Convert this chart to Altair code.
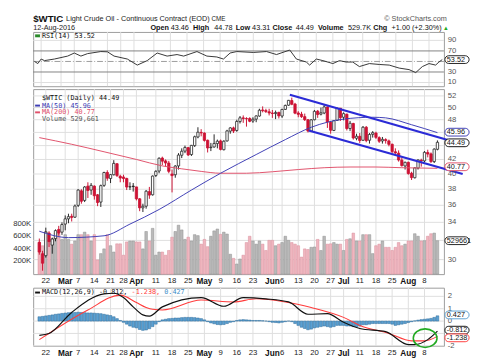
import altair as alt
import pandas as pd

# ---------------- data ----------------
tick_idx = [2, 8, 12, 17, 22, 26, 30, 36, 41, 46, 51, 56, 61, 66, 72, 75, 80, 85, 90, 94, 99, 104, 109, 114, 119]
tick_txt = ["22", "Mar", "7", "14", "21", "28", "Apr", "11", "18", "25", "May", "9", "16", "23",
            "Jun", "6", "13", "20", "27", "Jul", "11", "18", "25", "Aug", "8"]
month_idx = [8, 30, 51, 72, 94, 114]

price_ticks = [30, 32, 34, 36, 38, 40, 42, 44, 46, 48, 50, 52]
price_hidden = [32, 44, 46]          # covered by the value tags in the reference
vol_ticks = [200000, 400000, 600000, 800000]
rsi_ticks = [10, 30, 50, 70, 90]
rsi_hidden = [50]
macd_ticks = [-2, -1, 0, 1, 2]
macd_hidden = [-1]

opens = [31.8, 30.6, 30.4, 32.8, 31.5, 32.2, 33.2, 32.9, 33.8, 34.4,
         34.7, 34.6, 36.0, 37.8, 36.6, 38.4, 37.9, 38.4, 37.3, 36.4,
         38.5, 40.2, 39.4, 39.9, 41.4, 39.7, 39.6, 39.4, 38.3, 38.4,
         38.3, 36.8, 35.7, 35.9, 37.7, 37.3, 39.8, 40.4, 42.2, 41.8,
         41.5, 40.0, 39.9, 41.1, 42.6, 43.2, 43.7, 42.7, 44.0, 45.3,
         46.0, 45.9, 44.8, 43.7, 43.8, 44.3, 44.7, 43.4, 44.7, 46.2,
         46.7, 46.3, 47.7, 48.3, 48.2, 48.2, 47.8, 48.1, 48.6, 49.6,
         49.5, 49.3, 49.1, 49.0, 49.2, 48.6, 49.7, 50.4, 51.2, 50.6,
         49.1, 48.9, 48.5, 48.0, 46.2, 48.0, 49.4, 48.9, 49.1, 50.1,
         47.6, 46.3, 47.9, 49.9, 48.4, 48.9, 46.6, 47.4, 45.1, 45.4,
         44.8, 46.8, 44.8, 45.7, 45.9, 45.2, 44.7, 44.9, 44.7, 44.2,
         43.1, 42.9, 41.9, 41.1, 41.6, 40.1, 39.5, 40.8, 41.9, 41.8,
         43.0, 42.8, 41.7, 43.46]
highs = [32.2, 30.9, 33.4, 33.0, 32.3, 33.2, 33.6, 34.0, 34.8, 35.0,
         35.0, 36.1, 38.0, 38.0, 38.4, 38.9, 38.8, 38.5, 37.4, 38.6,
         40.3, 40.5, 40.0, 41.9, 41.5, 39.9, 39.9, 39.5, 38.9, 38.8,
         38.3, 36.9, 36.2, 37.9, 38.3, 39.8, 40.5, 42.3, 42.4, 42.0,
         41.8, 40.6, 41.2, 42.9, 43.6, 44.0, 43.8, 44.1, 45.5, 46.8,
         46.5, 46.0, 44.9, 44.4, 45.7, 44.9, 44.9, 44.8, 46.4, 46.8,
         46.9, 48.0, 48.6, 48.7, 48.4, 48.4, 48.4, 48.7, 49.8, 50.2,
         49.8, 49.8, 49.6, 49.5, 49.3, 49.8, 50.5, 51.3, 51.7, 50.8,
         49.4, 49.3, 49.0, 48.1, 48.1, 49.6, 49.6, 50.0, 50.5, 50.2,
         47.8, 47.9, 50.0, 49.9, 49.2, 49.0, 47.8, 47.5, 45.8, 45.9,
         47.0, 47.0, 45.9, 46.2, 46.1, 45.4, 45.3, 45.1, 44.9, 44.3,
         43.6, 43.3, 42.3, 41.7, 41.7, 40.3, 40.9, 42.0, 42.1, 43.2,
         43.4, 43.0, 43.6, 44.78]
lows = [30.5, 28.9, 30.2, 31.3, 30.6, 31.9, 32.5, 32.6, 33.1, 33.9,
        34.1, 34.5, 35.8, 36.2, 36.4, 36.9, 37.3, 36.7, 35.9, 35.8,
        38.3, 39.1, 38.8, 39.8, 39.6, 38.9, 38.9, 37.9, 37.9, 37.7,
        36.6, 35.3, 35.2, 35.6, 36.8, 37.2, 39.6, 40.1, 41.2, 41.0,
        40.1, 37.6, 39.5, 40.6, 42.2, 42.9, 42.5, 42.5, 43.8, 45.1,
        45.4, 44.6, 43.0, 43.2, 43.7, 43.6, 43.3, 43.3, 44.6, 45.8,
        45.9, 46.1, 47.4, 47.5, 46.9, 47.6, 47.5, 47.6, 48.5, 49.2,
        49.1, 48.7, 48.3, 48.1, 48.2, 48.3, 49.6, 50.3, 50.4, 48.9,
        48.4, 48.3, 47.8, 46.0, 46.1, 47.9, 48.3, 48.7, 48.9, 46.7,
        45.8, 46.2, 47.8, 47.8, 47.9, 46.3, 46.2, 44.9, 44.8, 44.4,
        44.7, 44.5, 44.3, 45.2, 45.0, 44.4, 44.3, 44.3, 43.9, 42.9,
        42.8, 41.7, 41.0, 40.6, 39.9, 39.2, 39.4, 40.6, 41.0, 41.6,
        42.3, 41.5, 41.5, 43.31]
closes = [30.77, 29.64, 32.90, 31.87, 32.15, 33.07, 32.78, 33.75, 34.40, 34.66,
          34.57, 35.92, 37.90, 36.50, 38.29, 37.84, 38.50, 37.18, 36.34, 38.46,
          40.20, 39.44, 39.91, 41.45, 39.79, 39.46, 39.39, 38.28, 38.32, 38.34,
          36.79, 35.70, 35.89, 37.75, 37.26, 39.72, 40.36, 42.17, 41.76, 41.50,
          40.36, 39.78, 41.08, 42.63, 43.18, 43.73, 42.64, 44.04, 45.33, 46.03,
          45.92, 44.78, 43.65, 43.78, 44.32, 44.66, 43.44, 44.66, 46.23, 46.70,
          46.21, 47.72, 48.31, 48.19, 48.16, 47.75, 48.08, 48.62, 49.56, 49.48,
          49.33, 49.10, 49.01, 49.17, 48.62, 49.69, 50.36, 51.23, 50.56, 49.07,
          48.88, 48.49, 48.01, 46.21, 47.98, 49.37, 48.85, 49.13, 50.11, 47.64,
          46.33, 47.85, 49.88, 48.33, 48.99, 46.60, 47.43, 45.14, 45.41, 44.76,
          46.80, 44.75, 45.68, 45.95, 45.24, 44.65, 44.94, 44.75, 44.19, 43.13,
          42.92, 41.92, 41.14, 41.60, 40.06, 39.51, 40.83, 41.93, 41.80, 43.02,
          42.77, 41.71, 43.49, 44.49]
volumes_k = [500, 450, 675, 525, 560, 650, 630, 550, 625, 550, 475, 525, 625, 625, 665, 625, 525, 625, 225, 325,
             400, 625, 450, 350, 480, 480, 300, 510, 525, 525, 510, 510, 400, 675, 525, 725, 300, 350,
             350, 300, 375, 585, 675, 775, 700, 550, 585, 525, 625, 610, 475, 550, 435, 600, 685, 715, 630, 665,
             635, 315, 250, 160, 240, 300, 500, 600, 525, 475, 525, 475, 375, 535, 535, 450, 475, 500, 600, 535,
             500, 475, 450, 270, 400, 390,
             425, 430, 550, 375, 600, 475, 480, 500, 475, 475, 375, 550, 560, 650, 525, 525, 625, 625, 625, 325,
             450, 475, 525, 425, 425, 375, 425, 500, 450, 475, 525, 525, 640, 600, 525, 530, 600, 640, 650, 530]

ma50_idx = [0, 9, 20, 28, 37, 47, 56, 67, 76, 84, 94, 103, 107, 115, 123]
ma50_val = [33.0, 32.3, 32.5, 33.8, 35.5, 37.9, 40.1, 42.7, 44.9, 46.8, 48.1, 48.4, 48.3, 47.2, 45.96]
ma200_idx = [0, 10, 20, 30, 38, 44, 50, 56, 64, 72, 80, 88, 96, 104, 112, 123]
ma200_val = [45.2, 44.2, 43.1, 42.0, 41.1, 40.7, 40.35, 40.1, 40.1, 40.3, 40.6, 40.85, 40.95, 40.95, 40.85, 40.77]

chan_i1 = [77.4, 83.2]
chan_p1 = [52.2, 46.3]
chan_i2 = [130.8, 130.8]
chan_p2 = [44.2, 40.0]

rsi_idx = [0, 1, 2, 3, 6, 10, 12, 14, 16, 20, 22, 24, 28, 31, 34, 37, 40, 43, 45, 49, 52, 55, 57, 59, 61,
           66, 70, 73, 77, 79, 82, 83, 85, 87, 90, 92, 94, 96, 98, 101, 104, 107, 110, 113, 115, 117, 119,
           121, 122, 123]
rsi_val = [50, 46, 54.6, 51.6, 54.6, 60.2, 66, 60.2, 64.9, 68.8, 68.3, 60.2, 54.6, 43.1, 51.6, 66, 60.2, 63.1,
           60.2, 68.8, 60.2, 58.5, 54.6, 66, 68.8, 67.1, 68.8, 63.1, 71.7, 54.6, 48.9, 43.1, 54.6, 51.6, 46,
           51.6, 48.9, 48.9, 40.3, 46, 44.3, 43.1, 37.4, 34.5, 28.8, 40.3, 46, 43.1, 48.9, 53.52]

macd_idx = [0, 3, 10, 20, 23, 26, 29, 32, 34, 38, 50, 57, 63, 70, 77, 83, 89, 94, 99, 107, 114, 116, 120, 123]
macd_val = [-1.15, -1.0, 0.7, 2.2, 2.25, 1.9, 1.15, 0.5, 0.4, 1.15, 1.9, 1.2, 1.9, 1.8, 1.55, 0.55, 0.6,
            -0.1, -0.6, -0.85, -1.9, -1.9, -1.5, -0.812]
signal_idx = [0, 15, 25, 30, 33, 35, 38, 50, 60, 67, 76, 84, 94, 99, 108, 115, 119, 123]
signal_val = [-1.5, 0.9, 2.1, 1.5, 1.1, 0.95, 0.9, 1.7, 1.55, 1.8, 1.55, 1.1, 0.3, -0.35, -1.0, -1.6, -1.6,
              -1.238]
hist_val = [0.35, 0.38, 0.42, 0.46, 0.5, 0.55, 0.58, 0.62, 0.65, 0.68,
            0.7, 0.7, 0.72, 0.7, 0.68, 0.66, 0.66, 0.64, 0.62, 0.6,
            0.55, 0.5, 0.45, 0.35, 0.2, 0.05, -0.1, -0.25, -0.4, -0.5,
            -0.55, -0.68, -0.75, -0.72, -0.62, -0.45, -0.25, -0.05,
            0.1, 0.15, 0.2, 0.22, 0.25, 0.25, 0.28, 0.3, 0.3, 0.3, 0.28, 0.25,
            0.2, 0.1, -0.05, -0.15, -0.22, -0.28, -0.3, -0.28, -0.2, -0.1,
            -0.05, 0.05, 0.1, 0.12, 0.1, 0.08, 0.05, 0.05, 0.05, 0.03,
            0.0, -0.05, -0.1, -0.12, -0.15, -0.1, -0.05, 0.0, -0.05, -0.2,
            -0.35, -0.5, -0.6, -0.7, -0.65, -0.55, -0.5, -0.45, -0.4, -0.45,
            -0.5, -0.45, -0.35, -0.35, -0.35, -0.4, -0.4, -0.45, -0.45, -0.4,
            -0.3, -0.3, -0.25, -0.2, -0.2, -0.2, -0.2, -0.2, -0.2, -0.25,
            -0.35, -0.3, -0.25, -0.2, -0.12, -0.05, 0.02, 0.08, 0.12, 0.15,
            0.18, 0.22, 0.3, 0.427]
ellipse_i = [119.2]
ellipse_v = [-1.38]

# ---------------- styling / layout ----------------
SANS = "Liberation Sans"
MONO = "DejaVu Sans Mono"
GRID = "#dedede"
W = 424
H_RSI, H_PRICE, H_MACD = 56, 191, 60
XDOM = [-0.4, 123.5]
RED = "#cc1133"
BLUE_MA = "#3c3cb4"
RED_MA = "#e0506a"
LEFT_PAD = -25
TAG_H = 4.0

n = len(closes)
df = pd.DataFrame({"i": list(range(n)), "open": opens, "high": highs, "low": lows,
                   "close": closes, "vol": [v * 1000 for v in volumes_k]})
down = [True] + [closes[k] < closes[k - 1] for k in range(1, n)]
df["line_col"] = [RED if d else "#222222" for d in down]
df["fill_col"] = ["#ffffff" if c > o else lc for c, o, lc in zip(closes, opens, df["line_col"])]
df["vol_fill"] = ["#efb6bf" if d else "#b9b9b9" for d in down]
df["vol_stroke"] = ["#d98d9b" if d else "#8f8f8f" for d in down]

ticks_df = pd.DataFrame({"i": tick_idx, "t": tick_txt})
month_df = ticks_df[ticks_df["i"].isin(month_idx)]
day_df = ticks_df[~ticks_df["i"].isin(month_idx)]

xscale = alt.Scale(domain=XDOM, nice=False, zero=False)


def X(field):
    return alt.X(field + ":Q", scale=xscale, axis=None)


def Y(field, scale):
    return alt.Y(field + ":Q", scale=scale, axis=None)


one = pd.DataFrame({"k": [0]})


def txt(text, x, y, size=7.5, weight="normal", color="#222", font=SANS, align="left"):
    return alt.Chart(one).mark_text(text=text, align=align, baseline="middle", fontSize=size,
                                    fontWeight=weight, color=color, font=font).encode(
        x=alt.value(x), y=alt.value(y))


def icon(x1, x2, y, color, w=2, opacity=1):
    return alt.Chart(one).mark_rule(color=color, strokeWidth=w, opacity=opacity).encode(
        x=alt.value(x1), x2=alt.value(x2), y=alt.value(y))


def spacer():
    return icon(LEFT_PAD, LEFT_PAD + 1, 5, "#ffffff", 1, 0)


def vgrid():
    return alt.Chart(ticks_df).mark_rule(color=GRID, strokeWidth=1).encode(x=X("i"))


def hgrid(values, scale, color=GRID):
    return alt.Chart(pd.DataFrame({"v": values})).mark_rule(color=color, strokeWidth=1).encode(y=Y("v", scale))


def right_labels(values, hidden, scale, fmt):
    shown = [v for v in values if v not in hidden]
    d = pd.DataFrame({"v": shown, "t": [fmt(v) for v in shown]})
    return alt.Chart(d).mark_text(align="left", baseline="middle", fontSize=8, font=SANS,
                                  color="#555").encode(x=alt.value(W + 4), y=Y("v", scale), text="t:N")


def x_labels(h):
    a = alt.Chart(day_df).mark_text(baseline="middle", fontSize=8, font=SANS, color="#222").encode(
        x=X("i"), y=alt.value(h + 7), text="t:N")
    b = alt.Chart(month_df).mark_text(baseline="middle", fontSize=8.5, font=SANS, fontWeight="bold",
                                      color="#111").encode(x=X("i"), y=alt.value(h + 7), text="t:N")
    return [a, b]


def tag(value, text, color, scale, dy=0.0):
    t = pd.DataFrame({"v": [value], "t": [text]})
    rect = alt.Chart(t).mark_rect(cornerRadius=4, fill="white", stroke=color, strokeWidth=1,
                                  yOffset=dy - TAG_H, y2Offset=dy + TAG_H).encode(
        x=alt.value(W + 1), x2=alt.value(W + 26), y=Y("v", scale), y2=alt.Y2("v"))
    text_l = alt.Chart(t).mark_text(align="left", baseline="middle", fontSize=7.5, font=SANS,
                                    color="#111", dy=dy).encode(
        x=alt.value(W + 3), y=Y("v", scale), text="t:N")
    return [rect, text_l]


# ---------------- RSI panel ----------------
rsi_scale = alt.Scale(domain=[3, 106], nice=False, zero=False)
rsi_df = pd.DataFrame({"i": rsi_idx, "v": rsi_val})
rsi_line = alt.Chart(rsi_df).mark_line(color="#333", strokeWidth=1).encode(x=X("i"), y=Y("v", rsi_scale))
lvl = hgrid([70, 30], rsi_scale, "#808080")
mid = alt.Chart(pd.DataFrame({"v": [50]})).mark_rule(color="#9a9a9a", strokeWidth=1,
                                                    strokeDash=[6, 2, 1, 2]).encode(y=Y("v", rsi_scale))

header = [
    txt("$WTIC", 0, -13, size=10, weight="bold", color="#111"),
    txt("Light Crude Oil - Continuous Contract (EOD)", 34, -13, size=7.5),
    txt("CME", 184, -13, size=6.5),
    txt("\u00a9 StockCharts.com", W + 3, -13, size=7.5, color="#555", align="right"),
    txt("12-Aug-2016", 0, -4, size=7.5),
]
segs = [("Open", 121, True), ("43.46", 142, False), ("High", 165, True), ("44.78", 187, False),
        ("Low", 209, True), ("43.31", 226, False), ("Close", 247, True), ("44.49", 271, False),
        ("Volume", 294, True), ("529.7K", 325, False), ("Chg", 351, True), ("+1.00 (+2.30%)", 370, False)]
for s, xx, b in segs:
    header.append(txt(s, xx, -4, size=7.5, weight="bold" if b else "normal", color="#111"))
header.append(txt("\u25b2", W - 1, -4, size=6, color="#22aa22"))

rsi_panel = alt.layer(
    vgrid(), hgrid([10, 90], rsi_scale), lvl, mid, rsi_line,
    right_labels(rsi_ticks, rsi_hidden, rsi_scale, lambda v: "%d" % v),
    *tag(53.52, "53.52", "#222", rsi_scale),
    icon(2, 7, 4, "#2a8a2a", 3),
    txt("RSI(14) 53.52", 9, 4, size=7, font=MONO, color="#111"),
    *header,
    spacer(),
).properties(width=W, height=H_RSI)

# ---------------- price + volume panel ----------------
price_scale = alt.Scale(type="log", domain=[28.57, 53.2], nice=False)
vol_scale = alt.Scale(domain=[0, 2930000], nice=False, zero=True)

grid_group = alt.layer(vgrid(), hgrid(price_ticks, price_scale))

vol_bars = alt.Chart(df).mark_bar(size=2.7, strokeWidth=0.5).encode(
    x=X("i"), y=Y("vol", vol_scale),
    fill=alt.Color("vol_fill:N", scale=None), stroke=alt.Color("vol_stroke:N", scale=None))
vol_lab_df = pd.DataFrame({"v": vol_ticks, "t": ["%dK" % (v // 1000) for v in vol_ticks]})
vol_labels = alt.Chart(vol_lab_df).mark_text(align="right", baseline="middle", fontSize=8, font=SANS,
                                             color="#333").encode(x=alt.value(-2), y=Y("v", vol_scale),
                                                                  text="t:N")
vol_group = alt.layer(vol_bars, vol_labels, *tag(529661, "529661", "#222", vol_scale))

wicks = alt.Chart(df).mark_rule(strokeWidth=1).encode(
    x=X("i"), y=Y("low", price_scale), y2="high:Q", color=alt.Color("line_col:N", scale=None))
bodies = alt.Chart(df).mark_bar(size=2.4, strokeWidth=0.8).encode(
    x=X("i"), y=Y("open", price_scale), y2="close:Q",
    fill=alt.Color("fill_col:N", scale=None), stroke=alt.Color("line_col:N", scale=None))
ma200 = alt.Chart(pd.DataFrame({"i": ma200_idx, "v": ma200_val})).mark_line(
    color=RED_MA, strokeWidth=1, interpolate="monotone").encode(x=X("i"), y=Y("v", price_scale))
ma50 = alt.Chart(pd.DataFrame({"i": ma50_idx, "v": ma50_val})).mark_line(
    color=BLUE_MA, strokeWidth=1, interpolate="monotone").encode(x=X("i"), y=Y("v", price_scale))
chan = alt.Chart(pd.DataFrame({"i1": chan_i1, "p1": chan_p1, "i2": chan_i2, "p2": chan_p2})).mark_rule(
    color="#2b2bd6", strokeWidth=2.3).encode(x=X("i1"), x2="i2:Q", y=Y("p1", price_scale), y2="p2:Q")

price_group = alt.layer(
    wicks, bodies, ma200, ma50, chan,
    right_labels(price_ticks, price_hidden, price_scale, lambda v: "%d" % v),
    *tag(45.96, "45.96", BLUE_MA, price_scale, dy=-0.5),
    *tag(44.49, "44.49", "#111", price_scale, dy=0.5),
    *tag(40.77, "40.77", RED_MA, price_scale, dy=-1.6),
    txt("$WTIC (Daily) 44.49", 9, 9, size=7, font=MONO, color="#111"),
    icon(2, 7, 17, BLUE_MA), txt("MA(50) 45.96", 9, 17, size=7, font=MONO, color=BLUE_MA),
    icon(2, 7, 24, RED_MA), txt("MA(200) 40.77", 9, 24, size=7, font=MONO, color=RED_MA),
    txt("Volume 529,661", 9, 31, size=7, font=MONO, color="#555"),
    *x_labels(H_PRICE),
    spacer(),
)
price_panel = alt.layer(grid_group, vol_group, price_group).resolve_scale(y="independent").properties(
    width=W, height=H_PRICE)

# ---------------- MACD panel ----------------
macd_scale = alt.Scale(domain=[-2.0, 2.7], nice=False, zero=False)
hist = alt.Chart(pd.DataFrame({"i": list(range(n)), "v": hist_val})).mark_bar(
    size=2.8, fill="#5aa0d2", stroke="#2a6898", strokeWidth=0.5).encode(x=X("i"), y=Y("v", macd_scale))
sig = alt.Chart(pd.DataFrame({"i": signal_idx, "v": signal_val})).mark_line(
    color="#ff3b3b", strokeWidth=1.1, interpolate="monotone").encode(x=X("i"), y=Y("v", macd_scale))
macd = alt.Chart(pd.DataFrame({"i": macd_idx, "v": macd_val})).mark_line(
    color="#111", strokeWidth=1.2, interpolate="monotone").encode(x=X("i"), y=Y("v", macd_scale))
ell = alt.Chart(pd.DataFrame({"i": ellipse_i, "v": ellipse_v})).mark_point(
    shape="M -1 0 A 1 0.78 0 1 0 1 0 A 1 0.78 0 1 0 -1 0 Z", size=600, filled=False,
    stroke="#22aa22", strokeWidth=1.6, opacity=1).encode(x=X("i"), y=Y("v", macd_scale))

CW = 4.21
macd_panel = alt.layer(
    vgrid(), hgrid(macd_ticks, macd_scale),
    hist, sig, macd, ell,
    right_labels(macd_ticks, macd_hidden, macd_scale, lambda v: "%d" % v),
    *tag(0.427, "0.427", "#5aa0d2", macd_scale, dy=-0.9),
    *tag(-0.812, "-0.812", "#111", macd_scale, dy=-1.0),
    *tag(-1.238, "-1.238", "#ff3b3b", macd_scale, dy=1.5),
    icon(2, 7, 5, "#111"),
    txt("MACD(12,26,9) -0.812,", 9, 5, size=7, font=MONO, color="#111"),
    txt("-1.238,", 9 + 22 * CW, 5, size=7, font=MONO, color="#ff3b3b"),
    txt("0.427", 9 + 30 * CW, 5, size=7, font=MONO, color="#3a8cc8"),
    *x_labels(H_MACD),
    spacer(),
).properties(width=W, height=H_MACD)

chart = alt.vconcat(rsi_panel, price_panel, macd_panel, spacing=1).properties(
    padding=0, background="white"
).configure_view(stroke="#9a9a9a", strokeWidth=1)

chart.save("out.html", embed_options={"renderer": "svg", "actions": False})
